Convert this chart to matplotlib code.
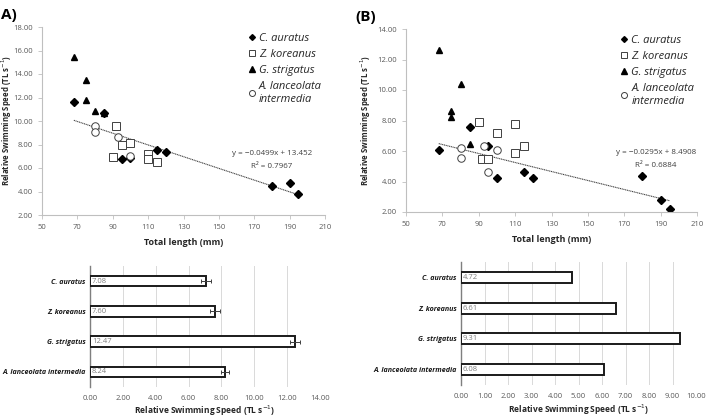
import matplotlib
matplotlib.use("Agg")
import matplotlib.pyplot as plt
import numpy as np

plt.rcParams['font.family'] = ['Open Sans', 'DejaVu Sans']

# ---------------- Data ----------------
species = ["C. auratus", "Z. koreanus", "G. strigatus", "A. lanceolata intermedia"]

# Panel A scatter
a_ca_x = [68, 95, 100, 115, 120, 180, 190, 195, 85]
a_ca_y = [11.65, 6.78, 6.83, 7.57, 7.37, 4.47, 4.70, 3.79, 10.65]
a_zk_x = [90, 92, 95, 100, 110, 110, 115]
a_zk_y = [6.97, 9.56, 8.00, 8.17, 7.20, 6.75, 6.55]
a_gs_x = [68, 75, 75, 80, 85]
a_gs_y = [15.41, 13.45, 11.80, 10.87, 10.72]
a_al_x = [80, 80, 93, 100]
a_al_y = [9.59, 9.10, 8.65, 7.06]
a_slope, a_icpt = -0.0499, 13.452
a_eq = ["y = \u22120.0499x + 13.452", "R\u00b2 = 0.7967"]

# Panel B scatter
b_ca_x = [68, 85, 95, 100, 115, 120, 180, 190, 195]
b_ca_y = [6.05, 7.60, 6.30, 4.25, 4.60, 4.25, 4.35, 2.80, 2.20]
b_zk_x = [90, 100, 110, 110, 115, 92, 95]
b_zk_y = [7.90, 7.20, 7.75, 5.85, 6.35, 5.45, 5.45]
b_gs_x = [68, 80, 75, 75, 85]
b_gs_y = [12.63, 10.40, 8.60, 8.20, 6.45]
b_al_x = [80, 80, 93, 100, 95]
b_al_y = [6.18, 5.55, 6.35, 6.05, 4.60]
b_slope, b_icpt = -0.0295, 8.4908
b_eq = ["y = \u22120.0295x + 8.4908", "R\u00b2 = 0.6884"]

# Bar panels
a_bar = [7.08, 7.60, 12.47, 8.24]
a_err = [0.30, 0.30, 0.30, 0.25]
b_bar = [4.72, 6.61, 9.31, 6.08]

a_xticks = [50, 70, 90, 110, 130, 150, 170, 190, 210]
a_yticks = [2, 4, 6, 8, 10, 12, 14, 16, 18]
b_yticks = [2, 4, 6, 8, 10, 12, 14]
a_bar_ticks = [0, 2, 4, 6, 8, 10, 12, 14]
b_bar_ticks = [0, 1, 2, 3, 4, 5, 6, 7, 8, 9, 10]

# ---------------- Figure ----------------
fig = plt.figure(figsize=(7.08, 4.17), dpi=100)
W, H = 708, 417

def box(x0, y0, x1, y1):
    return [x0 / W, 1 - y1 / H, (x1 - x0) / W, (y1 - y0) / H]

TICKC = '#595959'
SPC = '#bfbfbf'
ylab = 'Relative Swimming Speed (TL s$^{-1}$)'

def scatter_panel(ax, ca, zk, gs, al, slope, icpt, eq, yticks, legpos, eqpos):
    ms = 4.2
    h1, = ax.plot(ca[0], ca[1], ls='none', marker='D', ms=ms - 0.5, color='black', label='C. auratus')
    h2, = ax.plot(zk[0], zk[1], ls='none', marker='s', ms=ms + 1.5, mfc='white', mec='#404040', mew=0.7, label='Z. koreanus')
    h3, = ax.plot(gs[0], gs[1], ls='none', marker='^', ms=ms + 0.5, color='black', label='G. strigatus')
    h4, = ax.plot(al[0], al[1], ls='none', marker='o', ms=ms + 1.2, mfc='white', mec='#404040', mew=0.7, label='A. lanceolata\nintermedia')
    xx = np.array([68, 195])
    ax.plot(xx, slope * xx + icpt, ls=(0, (1, 0.6)), color='#404040', lw=0.8, zorder=1)
    ax.set_xlim(50, 210)
    ax.set_ylim(yticks[0], yticks[-1])
    ax.set_xticks(a_xticks)
    ax.set_yticks(yticks)
    ax.set_yticklabels([f"{v:.2f}" for v in yticks])
    ax.tick_params(labelsize=5.5, colors=TICKC, length=3, width=0.6, color=SPC)
    for s in ['top', 'right']:
        ax.spines[s].set_visible(False)
    for s in ['left', 'bottom']:
        ax.spines[s].set_color(SPC)
        ax.spines[s].set_linewidth(0.8)
    ax.set_ylabel(ylab, fontsize=5.6, fontweight='bold', color='#262626')
    ax.set_xlabel('Total length (mm)', fontsize=6.5, fontweight='bold', color='#262626', labelpad=5)
    leg = ax.legend(handles=[h1, h2, h3, h4], loc='upper left', bbox_to_anchor=legpos,
                    frameon=False, prop={'style': 'italic', 'size': 8}, handletextpad=0.15,
                    handlelength=1.0, labelspacing=0.45, borderaxespad=0, markerscale=0.8)
    for t in leg.get_texts():
        t.set_color('#262626')
    ax.text(eqpos[0], eqpos[1], eq[0] + "\n" + eq[1], transform=ax.transAxes,
            fontsize=5.8, color='#404040', ha='center', va='center', linespacing=2.2)

axA = fig.add_axes(box(42, 27, 325, 215))
scatter_panel(axA, (a_ca_x, a_ca_y), (a_zk_x, a_zk_y), (a_gs_x, a_gs_y), (a_al_x, a_al_y),
              a_slope, a_icpt, a_eq, a_yticks, (0.705, 0.99), (0.813, 0.295))
axA.yaxis.set_label_coords(-0.098, 0.5)

axB = fig.add_axes(box(406, 29, 697, 212))
scatter_panel(axB, (b_ca_x, b_ca_y), (b_zk_x, b_zk_y), (b_gs_x, b_gs_y), (b_al_x, b_al_y),
              b_slope, b_icpt, b_eq, b_yticks, (0.715, 0.99), (0.859, 0.29))
axB.yaxis.set_label_coords(-0.112, 0.5)

def bar_panel(ax, vals, err, ticks):
    ypos = np.arange(len(species))
    ax.barh(ypos, vals, height=0.35, color='white', edgecolor='#1a1a1a', linewidth=1.4, zorder=3)
    if err is not None:
        ax.errorbar(vals, ypos, xerr=err, fmt='none', ecolor='#404040', elinewidth=0.7,
                    capsize=1.5, capthick=0.7, zorder=4)
    for y, v in zip(ypos, vals):
        ax.text(ticks[-1] * 0.008, y, f"{v:.2f}", fontsize=5.5, color='#7f7f7f',
                va='center', ha='left', zorder=5)
    ax.set_ylim(3.5, -0.5)
    ax.set_xlim(0, ticks[-1])
    ax.set_xticks(ticks)
    ax.set_xticklabels([f"{t:.2f}" for t in ticks])
    ax.set_yticks(ypos)
    ax.set_yticklabels(species, fontsize=5.1, fontweight='bold', style='italic', color='#1a1a1a')
    ax.tick_params(axis='x', labelsize=5.5, colors=TICKC, length=0, pad=6)
    ax.tick_params(axis='y', length=0, pad=3)
    ax.grid(axis='x', color='#d9d9d9', lw=0.7, zorder=0)
    for s in ['top', 'right', 'bottom']:
        ax.spines[s].set_visible(False)
    ax.spines['left'].set_color('#7f7f7f')
    ax.spines['left'].set_linewidth(1.0)
    ax.set_xlabel(ylab, fontsize=6.0, fontweight='bold', color='#262626')
    ax.xaxis.set_label_coords(0.5, -0.14)

axC = fig.add_axes(box(90, 266, 320, 387))
bar_panel(axC, a_bar, a_err, a_bar_ticks)

axD = fig.add_axes(box(461, 262, 696, 385))
bar_panel(axD, b_bar, None, b_bar_ticks)

fig.text(0.002, 0.963, 'A)', fontsize=11, fontweight='bold', ha='left', va='center')
fig.text(0.502, 0.96, '(B)', fontsize=11, fontweight='bold', ha='left', va='center')

fig.savefig('out.png', dpi=100)
